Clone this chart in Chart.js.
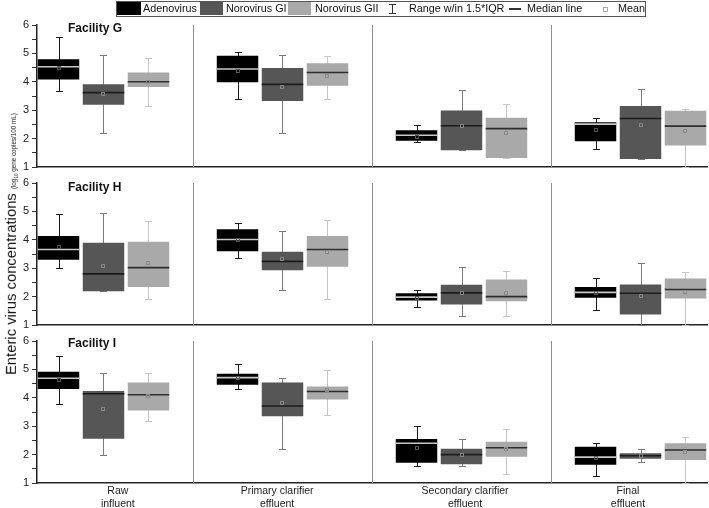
<!DOCTYPE html>
<html>
<head>
<meta charset="utf-8">
<script src="https://cdn.jsdelivr.net/npm/chart.js@4.4.1/dist/chart.umd.min.js"></script>
<style>
  body { margin: 0; background: #fff; font-family: "Liberation Sans", Arial, sans-serif; }
  #wrap { position: relative; width: 709px; height: 508px; overflow: hidden; background: #fff; }
  canvas { position: absolute; left: 0; }
  .txt { position: absolute; white-space: nowrap; color: #111; z-index: 5; }
  .fac { font-weight: bold; font-size: 12px; line-height: 12px; left: 68px; }
  .lg { font-size: 10.8px; line-height: 15px; top: 1px; }
  .sw { position: absolute; top: 2px; height: 13px; z-index: 5; }
  #legendBox { position: absolute; left: 116px; top: 1px; width: 530px; height: 16px; box-sizing: border-box; border: 1px solid #555; z-index: 4; }
  #ytitle { position: absolute; left: 11px; top: 244px; transform: translate(-50%, -50%) rotate(-90deg); white-space: nowrap; color: #111; font-size: 14.8px; z-index: 5; }
  #ytitle small { font-size: 6.3px; }
  #ytitle sub { font-size: 4.5px; }
</style>
</head>
<body>
<div id="wrap">
  <canvas id="cG" width="709" height="180" style="top:0px"></canvas>
  <canvas id="cH" width="709" height="180" style="top:158px"></canvas>
  <canvas id="cI" width="709" height="192" style="top:316px"></canvas>

  <div id="legendBox"></div>
  <div class="sw" style="left:117px;width:24px;background:#000"></div>
  <span class="txt lg" style="left:143px">Adenovirus</span>
  <div class="sw" style="left:200px;width:23px;background:#565656"></div>
  <span class="txt lg" style="left:226px">Norovirus GI</span>
  <div class="sw" style="left:288px;width:23px;background:#a9a9a9"></div>
  <span class="txt lg" style="left:315px">Norovirus GII</span>
  <div class="sw" style="left:392px;top:4px;width:1px;height:10px;background:#333"></div>
  <div class="sw" style="left:389px;top:4px;width:7px;height:1px;background:#333"></div>
  <div class="sw" style="left:389px;top:13px;width:7px;height:1px;background:#333"></div>
  <span class="txt lg" style="left:409px">Range w/in 1.5*IQR</span>
  <div class="sw" style="left:509px;top:8px;width:12px;height:1.5px;background:#333"></div>
  <span class="txt lg" style="left:527px">Median line</span>
  <div class="sw" style="left:603px;top:7px;width:3px;height:3px;border:1px solid #aaa;background:transparent"></div>
  <span class="txt lg" style="left:618px">Mean</span>

  <div class="txt fac" style="top:22px">Facility G</div>
  <div class="txt fac" style="top:181px">Facility H</div>
  <div class="txt fac" style="top:337px">Facility I</div>

  <div id="ytitle">Enteric virus concentrations <small>(log<sub>10</sub> gene copies/100 mL)</small></div>
</div>

<script>
// treatment stages (x positions 1..4) and their axis labels
const stageLabels = [['Raw', 'influent'], ['Primary clarifier', 'effluent'], ['Secondary clarifier', 'effluent'], ['Final', 'effluent']];
const labelPos = [1.08, 1.97, 3.02, 3.93];
const dividers = [1.5, 2.5, 3.5];
const viruses = ['Adenovirus', 'Norovirus GI', 'Norovirus GII'];

// each row: [whisker low, Q1, median, Q3, whisker high, mean]  (log10 gc/100 mL)
const gAdeno   = [[3.67, 4.08, 4.53, 4.79, 5.56, 4.47], [3.41, 3.98, 4.45, 4.92, 5.04, 4.39], [1.88, 1.92, 2.12, 2.29, 2.49, 2.04], [1.62, 1.91, 2.51, 2.58, 2.74, 2.32]];
const gNoroGI  = [[2.20, 3.19, 3.62, 3.91, 4.96, 3.56], [2.18, 3.32, 3.91, 4.49, 4.96, 3.82], [1.59, 1.59, 2.45, 2.99, 3.71, 2.45], [1.28, 1.28, 2.71, 3.15, 3.73, 2.49]];
const gNoroGII = [[3.16, 3.82, 4.00, 4.33, 4.85, 4.00], [3.41, 3.86, 4.33, 4.65, 4.92, 4.21], [1.32, 1.32, 2.35, 2.73, 3.21, 2.21], [1.00, 1.76, 2.44, 2.98, 3.05, 2.27]];

const hAdeno   = [[3.01, 3.30, 3.66, 4.13, 4.90, 3.73], [3.36, 3.60, 4.01, 4.37, 4.58, 4.01], [1.63, 1.86, 1.98, 2.12, 2.24, 1.95], [1.53, 1.96, 2.15, 2.34, 2.65, 2.12]];
const hNoroGI  = [[2.19, 2.19, 2.80, 3.90, 4.94, 3.07], [2.22, 2.93, 3.24, 3.58, 4.30, 3.34], [1.31, 1.72, 2.13, 2.42, 3.03, 2.13], [1.00, 1.37, 2.12, 2.43, 3.19, 2.03]];
const hNoroGII = [[1.92, 2.34, 3.02, 3.93, 4.66, 3.17], [1.92, 3.05, 3.66, 4.13, 4.68, 3.58], [1.33, 1.84, 2.00, 2.60, 2.89, 2.12], [1.00, 1.93, 2.25, 2.64, 2.86, 2.16]];

const iAdeno   = [[3.78, 4.31, 4.69, 4.92, 5.48, 4.61], [4.31, 4.46, 4.71, 4.85, 5.20, 4.69], [1.59, 1.71, 2.40, 2.55, 3.01, 2.22], [1.24, 1.64, 1.91, 2.28, 2.40, 1.87]];
const iNoroGI  = [[2.00, 2.56, 4.14, 4.24, 4.87, 3.59], [2.21, 3.35, 3.71, 4.54, 4.68, 3.81], [1.61, 1.66, 2.00, 2.21, 2.54, 2.00], [1.75, 1.85, 1.96, 2.05, 2.21, 1.96]];
const iNoroGII = [[3.18, 3.55, 4.11, 4.54, 4.89, 4.05], [3.40, 3.94, 4.22, 4.40, 4.99, 4.26], [1.32, 1.92, 2.24, 2.45, 2.91, 2.19], [1.00, 1.81, 2.16, 2.40, 2.61, 2.08]];

const boxColors     = ['#000000', '#565656', '#a9a9a9'];
const whiskerColors = ['#1a1a1a', '#7c7c7c', '#c6c6c6'];
const medianColors  = ['#c8c8c8', '#1c1c1c', '#2e2e2e'];
const meanColors    = ['#555555', '#858585', '#8a8a8a'];

const X_MIN = 0.6285, X_MAX = 4.3715;

// whiskers, group dividers, medians and means, all placed via the chart scales
const boxExtras = {
  id: 'boxExtras',
  beforeDatasetsDraw(chart) {
    const { ctx, chartArea, scales } = chart;
    ctx.save();
    ctx.strokeStyle = '#8e8e8e';
    ctx.lineWidth = 1;
    dividers.forEach(v => {
      const px = Math.round(scales.x.getPixelForValue(v)) + 0.5;
      ctx.beginPath();
      ctx.moveTo(px, chartArea.top);
      ctx.lineTo(px, chartArea.bottom);
      ctx.stroke();
    });
    chart.data.datasets.forEach((ds, d) => {
      const meta = chart.getDatasetMeta(d);
      const y = scales[meta.yAxisID];
      ctx.strokeStyle = ds.whiskerColor;
      meta.data.forEach((bar, i) => {
        const s = ds.stats[i];
        const cx = Math.round(bar.x) + 0.5;
        const top = Math.round(y.getPixelForValue(s[4])) + 0.5;
        const bot = Math.round(y.getPixelForValue(s[0])) + 0.5;
        ctx.beginPath();
        ctx.moveTo(cx, top); ctx.lineTo(cx, bot);
        ctx.moveTo(cx - 3.5, top); ctx.lineTo(cx + 3.5, top);
        ctx.moveTo(cx - 3.5, bot); ctx.lineTo(cx + 3.5, bot);
        ctx.stroke();
      });
    });
    ctx.restore();
  },
  afterDatasetsDraw(chart) {
    const { ctx, scales } = chart;
    ctx.save();
    chart.data.datasets.forEach((ds, d) => {
      const meta = chart.getDatasetMeta(d);
      const y = scales[meta.yAxisID];
      meta.data.forEach((bar, i) => {
        const s = ds.stats[i];
        const half = bar.width / 2;
        const my = y.getPixelForValue(s[2]);
        ctx.strokeStyle = ds.medianColor;
        ctx.lineWidth = 1.6;
        ctx.beginPath();
        ctx.moveTo(bar.x - half, my);
        ctx.lineTo(bar.x + half, my);
        ctx.stroke();
        const mn = Math.round(y.getPixelForValue(s[5]));
        ctx.strokeStyle = ds.meanColor;
        ctx.lineWidth = 1;
        ctx.strokeRect(Math.round(bar.x) - 1.5, mn - 1.5, 3, 3);
      });
    });
    ctx.restore();
  }
};

function makePanel(canvasId, series, showLabels) {
  const datasets = series.map((stats, k) => ({
    label: viruses[k],
    data: stats.map((s, i) => ({ x: i + 1, y: [s[1], s[3]] })),
    stats: stats,
    backgroundColor: boxColors[k],
    borderWidth: 0,
    whiskerColor: whiskerColors[k],
    medianColor: medianColors[k],
    meanColor: meanColors[k],
    categoryPercentage: 0.754,
    barPercentage: 0.922
  }));

  const scales = {
    x: {
      type: 'linear', min: X_MIN, max: X_MAX, position: 'bottom', offset: false,
      afterBuildTicks: s => { s.ticks = [1, 2, 3, 4].map(v => ({ value: v })); },
      afterFit: s => { s.height = 0; },
      ticks: { display: false },
      grid: { display: false, drawTicks: false, offset: false },
      border: { display: true, color: '#222', width: 1.5 }
    },
    y: {
      min: 1, max: 6,
      afterFit: s => { s.width = 37; },
      ticks: {
        stepSize: 0.5, autoSkip: false, padding: 3, color: '#222',
        font: { family: '"Liberation Sans", Arial, sans-serif', size: 11 },
        callback: v => Number.isInteger(v) ? v : ''
      },
      grid: { drawOnChartArea: false, drawTicks: true, tickLength: 5, color: '#333' },
      border: { display: true, color: '#222', width: 1.5 }
    }
  };
  if (showLabels) {
    scales.xl = {
      type: 'linear', min: X_MIN, max: X_MAX, position: 'bottom', weight: 1, offset: false,
      afterBuildTicks: s => { s.ticks = labelPos.map(v => ({ value: v })); },
      afterFit: s => { s.height = 25; },
      ticks: {
        autoSkip: false, maxRotation: 0, padding: 2, color: '#222',
        font: { family: '"Liberation Sans", Arial, sans-serif', size: 10.5, lineHeight: 1.2 },
        callback: (v, i) => stageLabels[i]
      },
      grid: { display: false, drawTicks: false },
      border: { display: false }
    };
  }

  return new Chart(document.getElementById(canvasId), {
    type: 'bar',
    data: { datasets },
    options: {
      responsive: false,
      animation: false,
      layout: { padding: { top: 25, bottom: showLabels ? 0 : 13, left: 0, right: 2 } },
      plugins: { legend: { display: false }, tooltip: { enabled: false } },
      scales
    },
    plugins: [boxExtras]
  });
}

makePanel('cG', [gAdeno, gNoroGI, gNoroGII], false);
makePanel('cH', [hAdeno, hNoroGI, hNoroGII], false);
makePanel('cI', [iAdeno, iNoroGI, iNoroGII], true);
</script>
</body>
</html>
